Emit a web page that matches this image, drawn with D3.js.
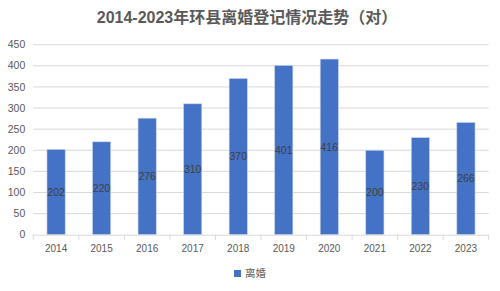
<!DOCTYPE html>
<html>
<head>
<meta charset="utf-8">
<script src="https://cdn.jsdelivr.net/npm/d3@7"></script>
<style>
  body { margin: 0; background: #fff; }
  text { font-family: "Liberation Sans", "Noto Sans CJK SC", sans-serif; }
</style>
</head>
<body>
<svg id="chart" width="500" height="291"></svg>
<script>
const years = ["2014","2015","2016","2017","2018","2019","2020","2021","2022","2023"];
const divorces = [202, 220, 276, 310, 370, 401, 416, 200, 230, 266];
const yTicks = [0, 50, 100, 150, 200, 250, 300, 350, 400, 450];
const seriesName = "离婚";
const title = "2014-2023年环县离婚登记情况走势（对）";

const svg = d3.select("#chart");
const margin = { top: 44.7, right: 11.3, bottom: 56.3, left: 33.3 };
const iw = 500 - margin.left - margin.right;
const ih = 291 - margin.top - margin.bottom;
const g = svg.append("g").attr("transform", `translate(${margin.left},${margin.top})`);

const x = d3.scaleBand().domain(years).range([0, iw]).paddingInner(0.6).paddingOuter(0.3);
const y = d3.scaleLinear().domain([0, 450]).range([ih, 0]);

// title
svg.append("text")
  .attr("x", 247).attr("y", 23)
  .attr("text-anchor", "middle")
  .attr("font-size", 16).attr("font-weight", "bold")
  .attr("fill", "#595959")
  .text(title);

// gridlines
g.append("g")
  .selectAll("line")
  .data(yTicks.filter(d => d > 0))
  .join("line")
    .attr("x1", 0).attr("x2", iw)
    .attr("y1", d => y(d)).attr("y2", d => y(d))
    .attr("stroke", "#d9d9d9").attr("stroke-width", 1);

// y axis labels
g.append("g")
  .selectAll("text")
  .data(yTicks)
  .join("text")
    .attr("x", -8).attr("y", d => y(d))
    .attr("dy", "0.35em")
    .attr("text-anchor", "end")
    .attr("font-size", 10.5)
    .attr("fill", "#595959")
    .text(d => d);

// bars
g.selectAll("rect.bar")
  .data(divorces)
  .join("rect")
    .attr("class", "bar")
    .attr("x", (d, i) => x(years[i]))
    .attr("y", d => y(d))
    .attr("width", x.bandwidth())
    .attr("height", d => ih - y(d))
    .attr("fill", "#4472c4")
    .attr("stroke", "#c9d6ee").attr("stroke-width", 0.6);

// data labels
g.selectAll("text.lbl")
  .data(divorces)
  .join("text")
    .attr("class", "lbl")
    .attr("x", (d, i) => x(years[i]) + x.bandwidth() / 2)
    .attr("y", d => (y(d) + ih) / 2)
    .attr("dy", "0.35em")
    .attr("text-anchor", "middle")
    .attr("font-size", 10.5)
    .attr("fill", "#404040")
    .text(d => d);

// x axis line and ticks
const step = iw / years.length;
g.append("line")
  .attr("x1", 0).attr("x2", iw).attr("y1", ih + 0.5).attr("y2", ih + 0.5)
  .attr("stroke", "#d9d9d9");
g.append("g")
  .selectAll("line")
  .data(d3.range(years.length + 1))
  .join("line")
    .attr("x1", i => i * step).attr("x2", i => i * step)
    .attr("y1", ih).attr("y2", ih + 5)
    .attr("stroke", "#d9d9d9");
g.append("g")
  .selectAll("text")
  .data(years)
  .join("text")
    .attr("x", d => x(d) + x.bandwidth() / 2)
    .attr("y", ih + 17)
    .attr("text-anchor", "middle")
    .attr("font-size", 10)
    .attr("fill", "#595959")
    .text(d => d);

// legend
const lg = svg.append("g").attr("transform", "translate(234,270)");
lg.append("rect").attr("width", 7).attr("height", 7).attr("fill", "#4472c4");
lg.append("text")
  .attr("x", 11).attr("y", 3.5).attr("dy", "0.35em")
  .attr("font-size", 10.5).attr("fill", "#595959")
  .text(seriesName);
</script>
</body>
</html>
